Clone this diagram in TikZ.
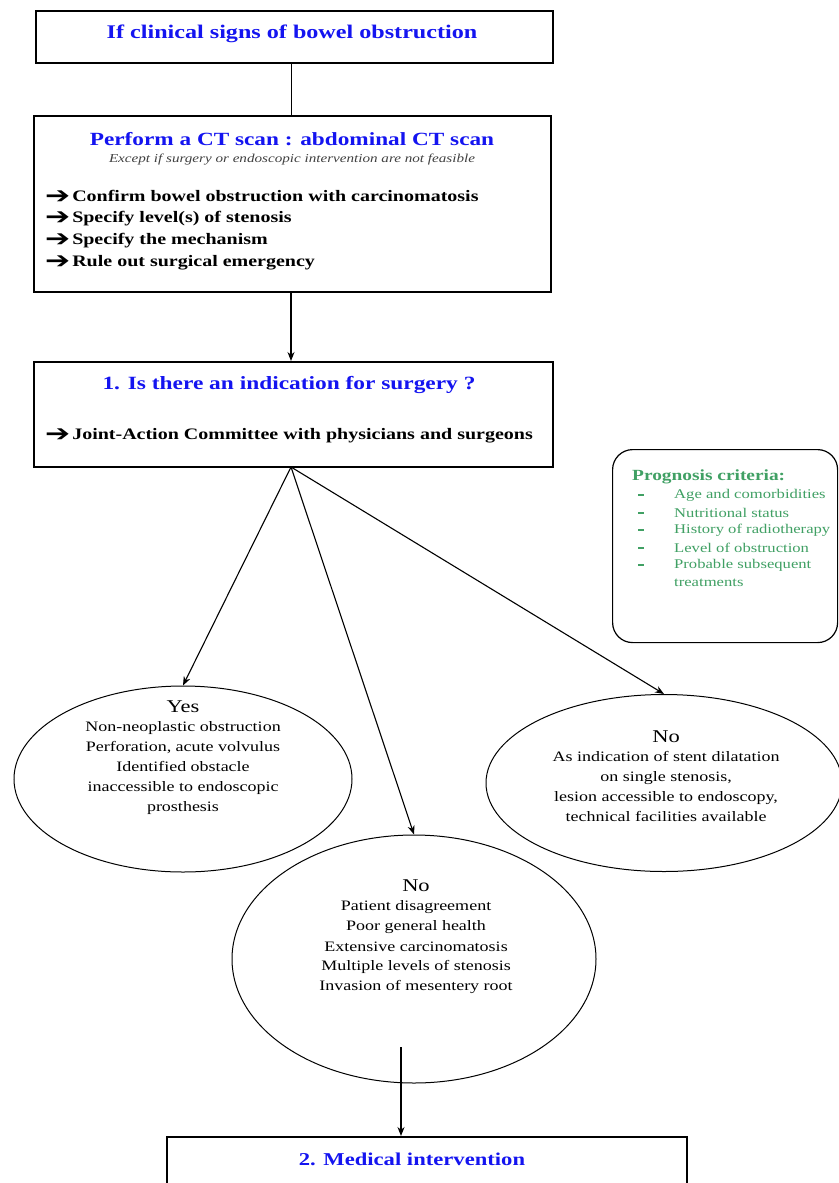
\documentclass[tikz,border=0pt]{standalone}
\usepackage{fontspec}
\setmainfont{Liberation Serif}[FakeStretch=1.25]
\newfontfamily\symf{DejaVu Sans}[FakeStretch=1.3]
\usetikzlibrary{shapes.geometric,arrows.meta}
\definecolor{tblue}{RGB}{20,20,240}
\definecolor{pgreen}{RGB}{64,160,100}
\tikzset{
  box/.style={draw=black, line width=1.5pt, fill=white, inner sep=0pt, anchor=north west},
  oval/.style={draw=black, ellipse, line width=1pt, inner sep=0pt},
  ttl/.style={font=\fontsize{18.7}{21}\selectfont\bfseries, text=tblue, inner sep=0pt},
  bul/.style={font=\fontsize{16}{18}\selectfont\bfseries, anchor=west, inner sep=0pt},
  otxt/.style={font=\fontsize{14.4}{20}\selectfont, align=center, inner sep=0pt, anchor=north},
  grn/.style={text=pgreen, inner sep=0pt, anchor=west},
  arr/.style={-{Stealth[length=9pt,width=7pt]}, line width=1.1pt},
  ln/.style={line width=1pt}
}
\newcommand{\barr}{{\symf\fontsize{23}{18}\selectfont\raisebox{-1.5pt}{➔}}\hspace{2pt}}
\begin{document}
\begin{tikzpicture}[x=1pt,y=-1pt]
\useasboundingbox (0,0) rectangle (838,1183);
\fill[white] (0,0) rectangle (838,1183);
% box 1
\node[box, minimum width=517pt, minimum height=52pt] (b1) at (35,10) {};
\node[ttl, font=\fontsize{19.3}{21}\selectfont\bfseries] (t1) at (292,34) {If clinical signs of bowel obstruction};
% box 2
\node[box, minimum width=517pt, minimum height=176pt] (b2) at (33,115) {};
\node[ttl, font=\fontsize{18.6}{21}\selectfont\bfseries] (t2) at (292,139) {Perform a CT scan : abdominal CT scan};
\node[inner sep=0pt, font=\fontsize{12.1}{13}\selectfont\itshape, text=black!75] (s2) at (292,160) {Except if surgery or endoscopic intervention are not feasible};
\node[bul] (c1) at (45,197) {\barr Confirm bowel obstruction with carcinomatosis};
\node[bul] (c2) at (45,219) {\barr Specify level(s) of stenosis};
\node[bul] (c3) at (45,241) {\barr Specify the mechanism};
\node[bul] (c4) at (45,263) {\barr Rule out surgical emergency};
% box 3
\node[box, minimum width=519pt, minimum height=105pt] (b3) at (33,361) {};
\node[ttl] (t3) at (289,385) {1. Is there an indication for surgery ?};
\node[bul] (j1) at (45,436) {\barr Joint-Action Committee with physicians and surgeons};
% prognosis box
\node[draw=black, line width=1.2pt, rounded corners=20pt, minimum width=225pt, minimum height=193pt, anchor=north west, inner sep=0pt] (pg) at (612,449) {};
\node[grn, font=\fontsize{15.5}{18}\selectfont\bfseries] (pt) at (632,477) {Prognosis criteria:};
\foreach \yy/\tt [count=\i] in {495/Age and comorbidities, 513/Nutritional status, 530/History of radiotherapy, 548/Level of obstruction, 565/Probable subsequent, 583/treatments}{
  \node[grn, font=\fontsize{13.3}{15}\selectfont] (pi\i) at (674,\yy) {\tt};
}
\foreach \yy [count=\i] in {495,513,530,548,565}{
  \node[grn, fill=pgreen, minimum width=6pt, minimum height=1.8pt] (pd\i) at (638,\yy) {};
}
% ellipses
\node[oval, minimum width=338pt, minimum height=186pt] (ey) at (183,779) {};
\node[otxt] (ty) at (183,701) {{\fontsize{18}{20}\selectfont Yes}\\[-1pt]Non-neoplastic obstruction\\Perforation, acute volvulus\\Identified obstacle\\inaccessible to endoscopic\\prosthesis};
\node[oval, minimum width=356pt, minimum height=177pt] (er) at (664,783) {};
\node[otxt] (tr) at (666,731) {{\fontsize{18}{20}\selectfont No}\\[-1pt]As indication of stent dilatation\\on single stenosis,\\lesion accessible to endoscopy,\\technical facilities available};
\node[oval, minimum width=364pt, minimum height=248pt] (em) at (414,959) {};
\node[otxt] (tm) at (416,880) {{\fontsize{18}{20}\selectfont No}\\[-1pt]Patient disagreement\\Poor general health\\Extensive carcinomatosis\\Multiple levels of stenosis\\Invasion of mesentery root};
% box 4
\node[box, minimum width=520pt, minimum height=80pt] (b4) at (166,1136) {};
\node[ttl, font=\fontsize{18.1}{21}\selectfont\bfseries] (t4) at (412,1159) {2. Medical intervention};
% connectors
\draw[ln] (b1.south -| 291,0) -- (b2.north -| 291,0);
\draw[arr] (b2.south -| 291,0) -- (b3.north -| 291,0);
\coordinate (fork) at (291,467);
\draw[arr] (fork) -- (ey.north);
\draw[arr] (fork) -- (em.north);
\draw[arr] (fork) -- (er.north);
\coordinate (m1) at (401,1047);
\draw[arr] (m1) -- (b4.north -| m1);
\end{tikzpicture}
\end{document}
